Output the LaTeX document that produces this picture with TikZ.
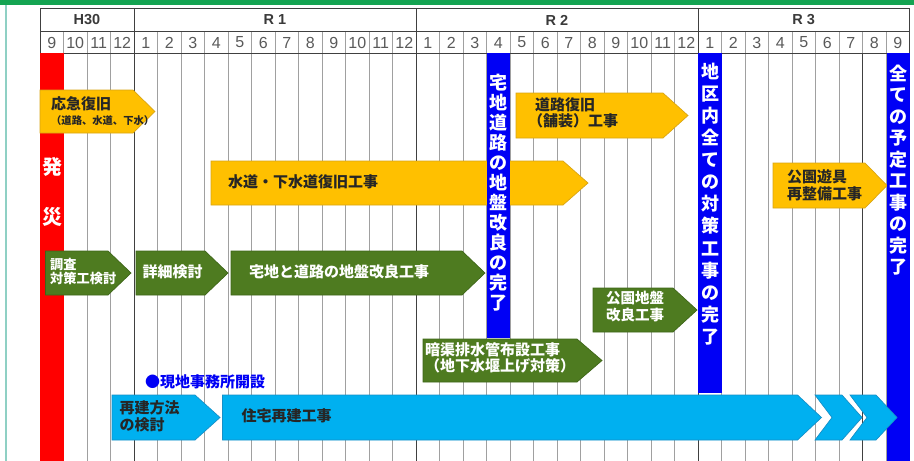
\documentclass[tikz,border=0pt]{standalone}
\usepackage{fontspec}
\setmainfont{Liberation Sans}
\newfontfamily\jp{Noto Sans CJK JP}
\definecolor{topgreen}{HTML}{14A452}
\definecolor{edgeteal}{HTML}{8FD0C4}
\definecolor{orfill}{HTML}{FFC000}
\definecolor{ordraw}{HTML}{D9A514}
\definecolor{grfill}{HTML}{4E7B20}
\definecolor{grdraw}{HTML}{3E6618}
\definecolor{lbfill}{HTML}{00B0F0}
\definecolor{lbdraw}{HTML}{1590C8}
\definecolor{mkblue}{HTML}{0000F5}
\definecolor{hdrtext}{HTML}{3A3A3A}
\definecolor{mtext}{HTML}{5A5A5A}
\definecolor{darktext}{HTML}{262626}
\definecolor{gridgray}{HTML}{A0A0A0}
\definecolor{griddark}{HTML}{404040}
\tikzset{
  orbox/.style={fill=orfill,draw=ordraw,line width=0.7pt,line join=miter},
  grbox/.style={fill=grfill,draw=grdraw,line width=0.7pt,line join=miter},
  lbbox/.style={fill=lbfill,draw=lbdraw,line width=0.7pt,line join=miter},
  lab/.style={inner sep=0pt,anchor=west,align=left,font=\jp\bfseries\fontsize{15}{17}\selectfont},
  darklab/.style={lab,text=darktext},
  whitelab/.style={lab,text=white},
  vtxt/.style={inner sep=0pt,align=center,text=white},
  yearlab/.style={inner sep=0pt,font=\bfseries\fontsize{14.5}{16}\selectfont,text=hdrtext},
  monthlab/.style={inner sep=0pt,font=\fontsize{16}{18}\selectfont,text=mtext},
  monthline/.style={gridgray,line width=0.6pt},
  yearline/.style={griddark,line width=0.8pt}
}
\newcommand\pentshape[6]{%
  \filldraw[#1] (#2,#4) -- ({#3-#6},#4) -- (#3,{(#4+#5)/2}) -- ({#3-#6},#5) -- (#2,#5) -- cycle;}
\begin{document}
\begin{tikzpicture}[x=1pt,y=-1pt]
\useasboundingbox (0,0) rectangle (914,461);
\fill[white] (0,0) rectangle (914,461);
\fill[topgreen] (0,0) rectangle (914,5);
\draw[edgeteal,line width=1.5pt] (6,5) -- (6,461);

% grid
\foreach \i in {1,...,36}{
  \draw[monthline] ({40+23.5*\i},31) -- ({40+23.5*\i},461);
}
\draw[griddark,line width=0.7pt] ({40+23.5*35},53) -- ({40+23.5*35},461);
\foreach \i in {4,16,28}{
  \draw[yearline] ({40+23.5*\i},8) -- ({40+23.5*\i},461);
}
\draw[griddark,line width=0.7pt] (40,461) -- (40,8) -- (909.5,8) -- (909.5,461);
\draw[griddark,line width=0.6pt] (40,31) -- (909.5,31);
\draw[griddark,line width=0.6pt] (40,53) -- (909.5,53);

% header text
\node[yearlab] (h30) at (87,20) {H30};
\node[yearlab] (r1) at (275,20) {R 1};
\node[yearlab] (r2) at (557,20) {R 2};
\node[yearlab] (r3) at (803.75,20) {R 3};
\foreach \m [count=\i from 0] in {9,10,11,12,1,2,3,4,5,6,7,8,9,10,11,12,1,2,3,4,5,6,7,8,9,10,11,12,1,2,3,4,5,6,7,8,9}{
  \node[monthlab] (m\i) at ({51.75+23.5*\i},42.5) {\m};
}

% red bar
\fill[red] (40,53) rectangle (63.5,461);
\node[vtxt,font=\jp\bfseries\fontsize{20}{50}\selectfont] (hassai) at (52,191.5) {発\\災};

% orange arrows
\pentshape{orbox}{40}{155}{90}{133}{22}
\node[darklab] (okyu) at (51,104) {応急復旧};
\node[inner sep=0pt,anchor=west,font=\jp\bfseries\fontsize{10.3}{11}\selectfont,text=darktext] (okyusub) at (51,121) {（道路、水道、下水）};

\pentshape{orbox}{211}{588}{161}{205}{25}
\node[darklab] (suido) at (228,182) {水道・下水道復旧工事};

\pentshape{orbox}{516}{688}{93}{138}{25}
\node[darklab,anchor=north west] (doro) at (535,97) {道路復旧\\[-0.5pt]\hspace*{-7pt}（舗装）工事};

\pentshape{orbox}{773}{887}{163}{208}{22}
\node[darklab,anchor=north west] (koen) at (787,169) {公園遊具\\再整備工事};

% green arrows
\pentshape{grbox}{45.5}{131}{251}{295}{23}
\node[whitelab,anchor=north west,font=\jp\bfseries\fontsize{13.2}{14}\selectfont] (chosa) at (50,258) {調査\\対策工検討};

\pentshape{grbox}{136}{228}{251}{295}{23}
\node[whitelab] (shosai) at (142.5,272) {詳細検討};

\pentshape{grbox}{231}{485}{251}{295}{23}
\node[whitelab] (jiban) at (249,272) {宅地と道路の地盤改良工事};

\pentshape{grbox}{593}{697}{288}{332}{24}
\node[whitelab,anchor=north west,font=\jp\bfseries\fontsize{14.5}{16.5}\selectfont] (koenjiban) at (606,291) {公園地盤\\改良工事};

\pentshape{grbox}{423}{602}{339}{382}{25}
\node[whitelab,anchor=north west,font=\jp\bfseries\fontsize{15}{16.5}\selectfont] (ankyo) at (425,342) {暗渠排水管布設工事\\（地下水堰上げ対策）};

% blue milestone bars
\fill[mkblue] (486.5,53) rectangle (510,338);
\node[vtxt,font=\jp\bfseries\fontsize{18}{20}\selectfont] (bar1) at (498.25,193) {宅\\地\\道\\路\\の\\地\\盤\\改\\良\\の\\完\\了};
\fill[mkblue] (698,53) rectangle (722,393);
\node[vtxt,font=\jp\bfseries\fontsize{18}{22.1}\selectfont] (bar2) at (710,204) {地\\区\\内\\全\\て\\の\\対\\策\\工\\事\\の\\完\\了};
\fill[mkblue] (886.5,53) rectangle (909.5,461);
\node[vtxt,font=\jp\bfseries\fontsize{18}{21.5}\selectfont] (bar3) at (898,170) {全\\て\\の\\予\\定\\工\\事\\の\\完\\了};

% light blue arrows
\node[inner sep=0pt,anchor=west,font=\jp\bfseries\fontsize{15}{17}\selectfont,text=mkblue] (office) at (145,381.5) {●現地事務所開設};
\pentshape{lbbox}{112}{220}{395}{440}{25}
\node[darklab,anchor=north west] (saiken) at (119.5,400) {再建方法\\の検討};
\pentshape{lbbox}{222.5}{821.5}{395}{440}{24}
\node[darklab] (jutaku) at (241.5,416) {住宅再建工事};
\filldraw[lbbox] (815,395) -- (842,395) -- (862,417.5) -- (842,440) -- (815,440) -- (832,417.5) -- cycle;
\filldraw[lbbox] (850,395) -- (876,395) -- (897,417.5) -- (876,440) -- (850,440) -- (867,417.5) -- cycle;
\end{tikzpicture}
\end{document}
